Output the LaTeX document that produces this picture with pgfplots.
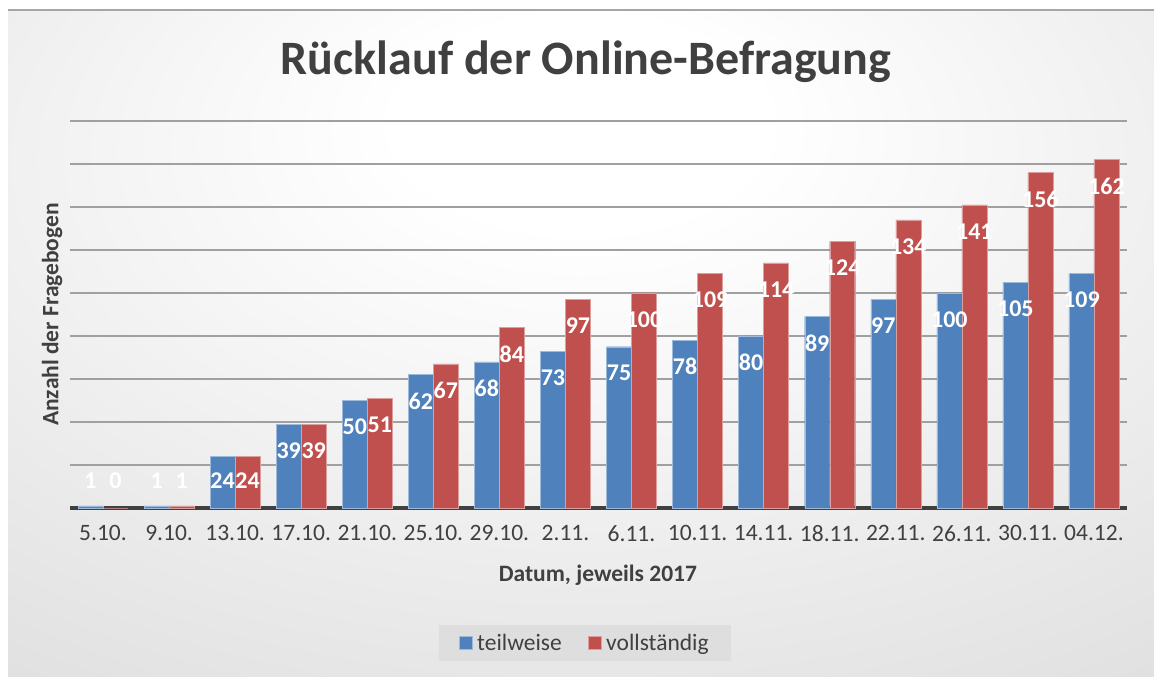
\documentclass[border=0pt]{standalone}
\usepackage{pgfplots}
\pgfplotsset{compat=1.18}
\usepackage{pgfplotstable}
\usepackage{fontspec}
\setmainfont{Carlito}
\definecolor{cblue}{RGB}{79,129,189}
\definecolor{cred}{RGB}{192,80,77}
\definecolor{ctext}{RGB}{64,64,64}
\definecolor{bgedge}{RGB}{200,200,200}
\definecolor{gridc}{RGB}{160,160,160}
\definecolor{legbg}{RGB}{222,222,222}
\pgfdeclareradialshading{bgshade}{\pgfpoint{0bp}{18bp}}{color(0bp)=(white); color(8bp)=(white); color(72bp)=(bgedge); color(100bp)=(bgedge)}

\pgfplotstableread{
x t v
0 1 0
1 1 1
2 24 24
3 39 39
4 50 51
5 62 67
6 68 84
7 73 97
8 75 100
9 78 109
10 80 114
11 89 124
12 97 134
13 100 141
14 105 156
15 109 162
}\data

\begin{document}
\begin{tikzpicture}[x=1pt,y=1pt]
\useasboundingbox (0,0) rectangle (1154,677);
\fill[white] (0,0) rectangle (1154,677);
\shade[shading=bgshade] (8,0) rectangle (1154,667);
\draw[line width=1.5pt, color=gray!70] (8,667) -- (1154,667);
\node[font=\fontsize{48}{56}\selectfont\bfseries, text=ctext] at (586,615) {Rücklauf der Online-Befragung};
\begin{axis}[
  at={(70pt,169pt)}, anchor=south west,
  scale only axis, width=1057pt, height=387pt,
  xmin=-0.5, xmax=15.5, ymin=0, ymax=180,
  ybar, bar width=25pt,
  /pgf/number format/assume math mode=true,
  ytick={0,20,...,180}, yticklabels={},
  ymajorgrids, grid style={gridc, line width=1.6pt},
  axis x line=bottom, axis y line=left,
  y axis line style={draw=none},
  x axis line style={ctext, line width=4pt, -},
  major tick length=0pt,
  xtick={0,...,15},
  xticklabels={5.10.,9.10.,13.10.,17.10.,21.10.,25.10.,29.10.,2.11.,6.11.,10.11.,14.11.,18.11.,22.11.,26.11.,30.11.,04.12.},
  xticklabel style={font=\fontsize{23.5}{28}\selectfont, text=ctext, yshift=-14pt},
  xlabel={Datum, jeweils 2017},
  xlabel style={at={(axis description cs:0.4995,-0.173)}, anchor=center, font=\fontsize{23.5}{28}\selectfont\bfseries, text=ctext},
  ylabel={Anzahl der Fragebogen},
  ylabel style={at={(axis description cs:-0.017,0.5)}, anchor=center, font=\fontsize{23.5}{28}\selectfont\bfseries, text=ctext},
  legend style={at={(axis description cs:0.487,-0.349)}, anchor=center, fill=legbg, draw=none,
    font=\fontsize{23.5}{28}\selectfont, text=ctext, inner xsep=20pt, inner ysep=7pt,
    /tikz/every odd column/.append style={column sep=3pt},
    /tikz/every even column/.append style={column sep=24pt}},
  legend columns=2,
  legend image code/.code={\fill[#1] (0pt,-6.5pt) rectangle (13pt,6.5pt);},
  clip=false,
]
\addplot[bar shift=-12.5pt, fill=cblue, draw=cblue!55!white, line width=0.4pt] table[x=x, y=t] {\data};
\addlegendentry{teilweise}
\addplot[bar shift=12.5pt, fill=cred, draw=cred!55!white, line width=0.4pt] table[x=x, y=v] {\data};
\addlegendentry{vollständig}
\addplot[forget plot, bar shift=-12.5pt, draw=none, fill=none, nodes near coords, point meta=explicit,
  nodes near coords style={anchor=center, font=\fontsize{24}{28}\selectfont\bfseries, text=white, inner sep=0pt}]
  table[x=x, y expr={max(\thisrow{t}-12.3,12.6)}, meta=t] {\data};
\addplot[forget plot, bar shift=12.5pt, draw=none, fill=none, nodes near coords, point meta=explicit,
  nodes near coords style={anchor=center, font=\fontsize{24}{28}\selectfont\bfseries, text=white, inner sep=0pt}]
  table[x=x, y expr={max(\thisrow{v}-12.3,12.6)}, meta=v] {\data};
\end{axis}
\end{tikzpicture}
\end{document}
